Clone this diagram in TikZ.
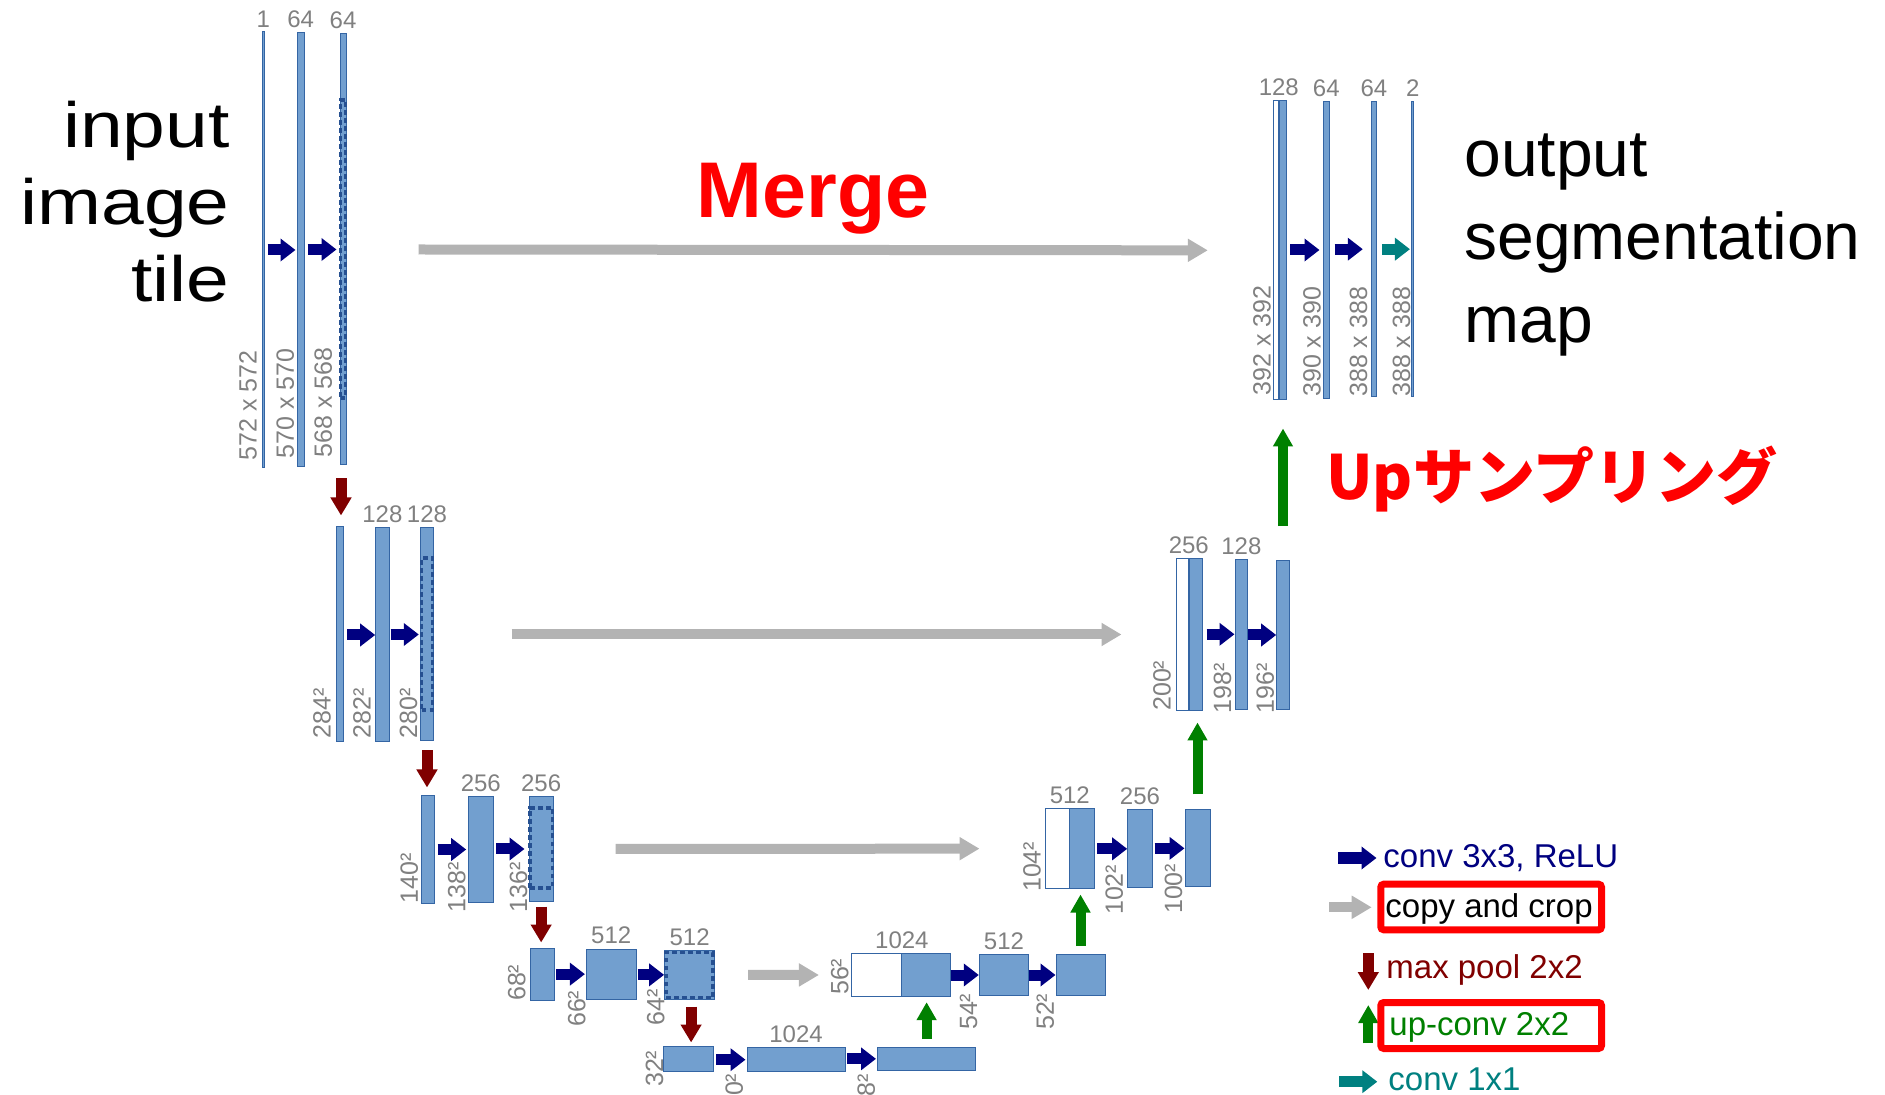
\documentclass[tikz,border=0pt]{standalone}
\usepackage{fontspec}
\setmainfont{Liberation Sans}
\newfontfamily\widefont{Liberation Sans}[FakeStretch=1.2]
\newfontfamily\jpfont{Noto Sans CJK JP}
\usetikzlibrary{arrows.meta,positioning,calc,fit}

\definecolor{fmapfill}{RGB}{114,159,207}
\definecolor{fmapedge}{RGB}{52,101,164}
\definecolor{cropedge}{RGB}{38,80,145}
\definecolor{convcol}{RGB}{0,0,128}
\definecolor{poolcol}{RGB}{128,0,0}
\definecolor{upcol}{RGB}{0,128,0}
\definecolor{onecol}{RGB}{0,128,128}
\definecolor{copycol}{RGB}{179,179,179}
\definecolor{labcol}{RGB}{128,128,128}

\tikzset{
  fmap/.style={draw=fmapedge, fill=fmapfill, line width=0.5pt, inner sep=0pt},
  fmapw/.style={fmap, fill=white},
  cropbox/.style={draw=cropedge, line width=1.8pt, dash pattern=on 2.4pt off 1.6pt, inner sep=0pt},
  chlab/.style={text=labcol, font=\fontsize{12}{12}\selectfont, inner sep=0pt},
  dimlab/.style={chlab, font=\fontsize{12.5}{12.5}\selectfont, rotate=90, anchor=south west},
  convarr/.style={draw=convcol, line width=5.5pt, -{Triangle[length=7.5pt,width=11pt]}},
  onearr/.style={convarr, draw=onecol},
  poolarr/.style={draw=poolcol, line width=5.5pt, -{Triangle[length=9pt,width=10pt]}},
  uparr/.style={draw=upcol, line width=5pt, -{Triangle[length=9pt,width=9.5pt]}},
  copyarr/.style={draw=copycol, line width=5pt, -{Triangle[length=10pt,width=11pt]}},
  legtext/.style={font=\fontsize{16.5}{18}\selectfont, anchor=base west, inner sep=0pt},
  redbox/.style={draw=red, line width=3.5pt, rounded corners=1.5pt, inner sep=0pt},
}

\begin{document}
\begin{tikzpicture}[x=0.5pt, y=-0.5pt]
  \useasboundingbox (0,0) rectangle (1885,1095);
  \clip (0,0) rectangle (1885,1095);

  % contracting path, level 1
  \node[fmap, fit={(262.5,32) (264,468)}] (e1a) {};
  \node[fmap, fit={(297.5,33) (304,467)}] (e1b) {};
  \node[fmap, fit={(340,34) (346,465)}] (e1c) {};
  \node[cropbox, fit={(340.5,100) (345.5,398)}] (e1crop) {};
  \node[chlab, above=2pt of e1a] (c1a) {1};
  \node[chlab, above=2pt of e1b] (c1b) {64};
  \node[chlab, above=2pt of e1c] (c1c) {64};
  \node[dimlab] (s1a) at ($(e1a.south west)+(-4.5,-8)$) {572 x 572};
  \node[dimlab] (s1b) at ($(e1b.south west)+(-2.5,-9)$) {570 x 570};
  \node[dimlab] (s1c) at ($(e1c.south west)+(-7,-8)$) {568 x 568};
  \draw[convarr] ($(e1b.west)+(-29.5,0)$) -- ($(e1b.west)+(-1.5,0)$);
  \draw[convarr] ($(e1c.west)+(-32,0)$) -- ($(e1c.west)+(-3,0)$);

  % level 2
  \node[fmap, fit={(336.7,527) (343.3,742)}] (e2a) {};
  \node[fmap, fit={(375.7,528) (389,742)}] (e2b) {};
  \node[fmap, fit={(420.7,528) (433.3,741)}] (e2c) {};
  \node[cropbox, fit={(421.5,558) (432.5,710)}] (e2crop) {};
  \node[chlab, above=2pt of e2b] (c2b) {128};
  \node[chlab, above=2pt of e2c] (c2c) {128};
  \node[dimlab] (s2a) at ($(e2a.south west)+(-5,-4)$) {284²};
  \node[dimlab] (s2b) at ($(e2b.south west)+(-4,-4)$) {282²};
  \node[dimlab] (s2c) at ($(e2c.south west)+(-2.5,-3)$) {280²};
  \draw[poolarr] ($(e1c.south)+(-2,13)$) -- ($(e1c.south)+(-2,50)$);
  \draw[convarr] ($(e2b.west)+(-28,0)$) -- (e2b.west);
  \draw[convarr] ($(e2c.west)+(-29.7,0)$) -- ($(e2c.west)+(-1.4,0)$);

  % level 3
  \node[fmap, fit={(421.7,796) (434.3,903)}] (e3a) {};
  \node[fmap, fit={(468.3,797) (493.3,902)}] (e3b) {};
  \node[fmap, fit={(529,797) (553.3,901)}] (e3c) {};
  \node[cropbox, fit={(530,808) (552.3,888)}] (e3crop) {};
  \node[chlab, above=2pt of e3b] (c3b) {256};
  \node[chlab, above=2pt of e3c] (c3c) {256};
  \node[dimlab] (s3a) at ($(e3a.south west)+(-2.7,0)$) {140²};
  \node[dimlab] (s3b) at ($(e3b.south west)+(-1.7,10)$) {138²};
  \node[dimlab] (s3c) at ($(e3c.south west)+(-0.7,11)$) {136²};
  \draw[poolarr] ($(e2c.south)+(0,9)$) -- ($(e2c.south)+(0,46)$);
  \draw[convarr] ($(e3b.west)+(-30.3,0)$) -- ($(e3b.west)+(-1.6,0)$);
  \draw[convarr] ($(e3c.west)+(-32.3,0)$) -- ($(e3c.west)+(-4,0)$);

  % level 4
  \node[fmap, fit={(530,948.3) (554.3,1000.7)}] (e4a) {};
  \node[fmap, fit={(586.4,949) (636,999.3)}] (e4b) {};
  \node[fmap, fit={(664.6,950.7) (714.6,999)}] (e4c) {};
  \node[cropbox, fit={(666,952.5) (713,997.5)}] (e4crop) {};
  \node[chlab, above=2pt of e4b] (c4b) {512};
  \node[chlab, above=2pt of e4c] (c4c) {512};
  \node[dimlab] (s4a) at ($(e4a.south west)+(-3.6,0)$) {68²};
  \node[dimlab] (s4b) at ($(e4b.south west)+(0,27.4)$) {66²};
  \node[dimlab] (s4c) at ($(e4c.south west)+(1,26)$) {64²};
  \draw[poolarr] ($(e3c.south)+(0,5)$) -- ($(e3c.south)+(0,41)$);
  \draw[convarr] ($(e4b.west)+(-29.6,0)$) -- ($(e4b.west)+(-1,0)$);
  \draw[convarr] ($(e4c.west)+(-26.4,0)$) -- (e4c.west);

  % bottom level
  \node[fmap, fit={(663.2,1046.7) (713.9,1071.7)}] (b5a) {};
  \node[fmap, fit={(747,1047.7) (845,1071.7)}] (b5b) {};
  \node[fmap, fit={(877.5,1047.7) (975.7,1070)}] (b5c) {};
  \node[chlab, above=2pt of b5b] (c5b) {1024};
  \node[dimlab] (s5a) at ($(b5a.south west)+(1,15)$) {32²};
  \node[dimlab] (s5b) at ($(b5b.south west)+(-3,38)$) {30²};
  \node[dimlab] (s5c) at ($(b5c.south west)+(-1.5,40)$) {28²};
  \draw[poolarr] ($(e4c.south)+(1.5,7)$) -- ($(e4c.south)+(1.5,43)$);
  \draw[convarr] ($(b5b.west)+(-30.2,0)$) -- ($(b5b.west)+(-1,0)$);
  \draw[convarr] ($(b5c.west)+(-29.6,0)$) -- ($(b5c.west)+(-1,0)$);

  % expansive path, level 4
  \node[fmapw, fit={(851.4,953.3) (901.4,996.7)}] (d4w) {};
  \node[fmap, fit={(901.4,953.3) (950.7,996.7)}] (d4a) {};
  \node[fmap, fit={(979.3,954.3) (1028.7,995.7)}] (d4b) {};
  \node[fmap, fit={(1056,954.3) (1105,995.7)}] (d4c) {};
  \node[chlab, above=2pt of d4w.north east] (c4w) {1024};
  \node[chlab, above=2pt of d4b] (c4d) {512};
  \node[dimlab] (s4w) at ($(d4w.south west)+(-2,-2)$) {56²};
  \node[dimlab] (s4d) at ($(d4b.south west)+(-1,34)$) {54²};
  \node[dimlab] (s4e) at ($(d4c.south west)+(-1,34)$) {52²};
  \draw[uparr] ($(b5c.north)+(0,-8)$) -- ($(b5c.north)+(0,-45)$);
  \draw[convarr] ($(d4b.west)+(-28,0)$) -- (d4b.west);
  \draw[convarr] ($(d4c.west)+(-27,0)$) -- (d4c.west);

  % level 3
  \node[fmapw, fit={(1045,809) (1069.3,888.3)}] (d3w) {};
  \node[fmap, fit={(1069.3,809) (1094,888.3)}] (d3a) {};
  \node[fmap, fit={(1127.7,810) (1152.3,887.7)}] (d3b) {};
  \node[fmap, fit={(1185,810) (1210,886.7)}] (d3c) {};
  \node[chlab, above=2pt of d3w.north east] (c3w) {512};
  \node[chlab, above=2pt of d3b] (c3d) {256};
  \node[dimlab] (s3w) at ($(d3w.south west)+(-3.3,3.4)$) {104²};
  \node[dimlab] (s3d) at ($(d3b.south west)+(-3.7,27)$) {102²};
  \node[dimlab] (s3e) at ($(d3c.south west)+(-1.7,27)$) {100²};
  \draw[uparr] ($(d4c.north)+(0,-7.6)$) -- ($(d4c.north)+(0,-59.3)$);
  \draw[convarr] ($(d3b.west)+(-30,0)$) -- (d3b.west);
  \draw[convarr] ($(d3c.west)+(-30,0)$) -- (d3c.west);

  % level 2
  \node[fmapw, fit={(1176,558.3) (1188.3,710.7)}] (d2w) {};
  \node[fmap, fit={(1189.3,558.3) (1202.7,710.7)}] (d2a) {};
  \node[fmap, fit={(1235,559.3) (1247.7,709.3)}] (d2b) {};
  \node[fmap, fit={(1276.7,560.7) (1289.3,709.3)}] (d2c) {};
  \node[chlab, above=2pt of d2w.north east] (c2w) {256};
  \node[chlab, above=2pt of d2b] (c2d) {128};
  \node[dimlab] (s2w) at ($(d2w.south west)+(-4.3,0)$) {200²};
  \node[dimlab] (s2d) at ($(d2b.south west)+(-2.7,4)$) {198²};
  \node[dimlab] (s2e) at ($(d2c.south west)+(-1.7,4)$) {196²};
  \draw[uparr] ($(d3c.north)+(0,-15)$) -- ($(d3c.north)+(0,-87)$);
  \draw[convarr] ($(d2b.west)+(-28,0)$) -- (d2b.west);
  \draw[convarr] ($(d2c.west)+(-28,0)$) -- (d2c.west);

  % level 1
  \node[fmapw, fit={(1273.3,100.7) (1278.3,400)}] (d1w) {};
  \node[fmap, fit={(1279,100.7) (1286,400)}] (d1a) {};
  \node[fmap, fit={(1323.3,101.7) (1329.3,398.3)}] (d1b) {};
  \node[fmap, fit={(1371,101.7) (1376.7,396.7)}] (d1c) {};
  \node[fmap, fit={(1412,101.7) (1413.5,396.7)}] (d1o) {};
  \node[chlab, above=2pt of d1w.north east] (c1w) {128};
  \node[chlab, above=2pt of d1b] (c1d) {64};
  \node[chlab, above=2pt of d1c] (c1e) {64};
  \node[chlab, above=2pt of d1o] (c1o) {2};
  \node[dimlab] (s1w) at ($(d1w.south west)+(-1.6,-5)$) {392 x 392};
  \node[dimlab] (s1d) at ($(d1b.south west)+(-1.6,-1.6)$) {390 x 390};
  \node[dimlab] (s1e) at ($(d1c.south west)+(-2.7,0)$) {388 x 388};
  \node[dimlab] (s1o) at ($(d1o.south west)+(-0.5,0)$) {388 x 388};
  \draw[uparr] ($(d2c.north)+(0,-34)$) -- ($(d2c.north)+(0,-131.7)$);
  \draw[convarr] ($(d1b.west)+(-32.6,0)$) -- ($(d1b.west)+(-3.3,0)$);
  \draw[convarr] ($(d1c.west)+(-36,0)$) -- ($(d1c.west)+(-7.7,0)$);
  \draw[onearr] ($(d1o.west)+(-29.3,0)$) -- ($(d1o.west)+(-1.3,0)$);

  % skip connections
  \draw[copyarr] ($(e1c.east)+(72,0)$) -- ($(d1w.west)+(-65,0)$);
  \draw[copyarr] ($(e2c.east)+(77.7,0)$) -- ($(d2w.west)+(-54,0)$);
  \draw[copyarr] ($(e3c.east)+(61.7,0)$) -- ($(d3w.west)+(-65,0)$);
  \draw[copyarr] ($(e4c.east)+(33,0)$) -- ($(d4w.west)+(-32,0)$);

  % captions
  \node[font=\widefont\fontsize{32}{38.5}\selectfont, align=right, anchor=north east, inner sep=0pt] (intile) at (230,101) {input\\image\\tile};
  \node[font=\fontsize{33}{41.5}\selectfont, align=left, anchor=north west, inner sep=0pt] (outmap) at (1464,133) {output\\segmentation\\map};
  \node[font=\fontsize{39.5}{40}\selectfont\bfseries, text=red, anchor=base, inner sep=0pt] (merge) at (813,218) {Merge};
  \node[font=\jpfont\fontsize{30.5}{32}\selectfont\bfseries, text=red, anchor=base west, inner sep=0pt] (upsamp) at (1326,500) {Upサンプリング};

  % legend
  \node[legtext, text=convcol] (lgconv) at (1383,868) {conv 3x3, ReLU};
  \node[legtext, text=black] (lgcopy) at (1385,917) {copy and crop};
  \node[legtext, text=poolcol] (lgpool) at (1386,978) {max pool 2x2};
  \node[legtext, text=upcol] (lgup) at (1389,1035) {up-conv 2x2};
  \node[legtext, text=onecol] (lgone) at (1388,1090) {conv 1x1};
  \draw[convarr] ($(lgconv.base west)+(-45,-10)$) -- ($(lgconv.base west)+(-6.5,-10)$);
  \draw[copyarr] ($(lgcopy.base west)+(-55.7,-9.7)$) -- ($(lgcopy.base west)+(-13.3,-9.7)$);
  \draw[poolarr] ($(lgpool.base west)+(-17.7,-24.7)$) -- ($(lgpool.base west)+(-17.7,12)$);
  \draw[uparr] ($(lgup.base west)+(-20.7,8.3)$) -- ($(lgup.base west)+(-20.7,-30)$);
  \draw[onearr] ($(lgone.base west)+(-48.7,-8.3)$) -- ($(lgone.base west)+(-10.7,-8.3)$);
  \node[redbox, fit={(1380.8,884.2) (1601.5,929.8)}] (boxcopy) {};
  \node[redbox, fit={(1380.8,1002.5) (1601.5,1048.5)}] (boxup) {};
\end{tikzpicture}
\end{document}
